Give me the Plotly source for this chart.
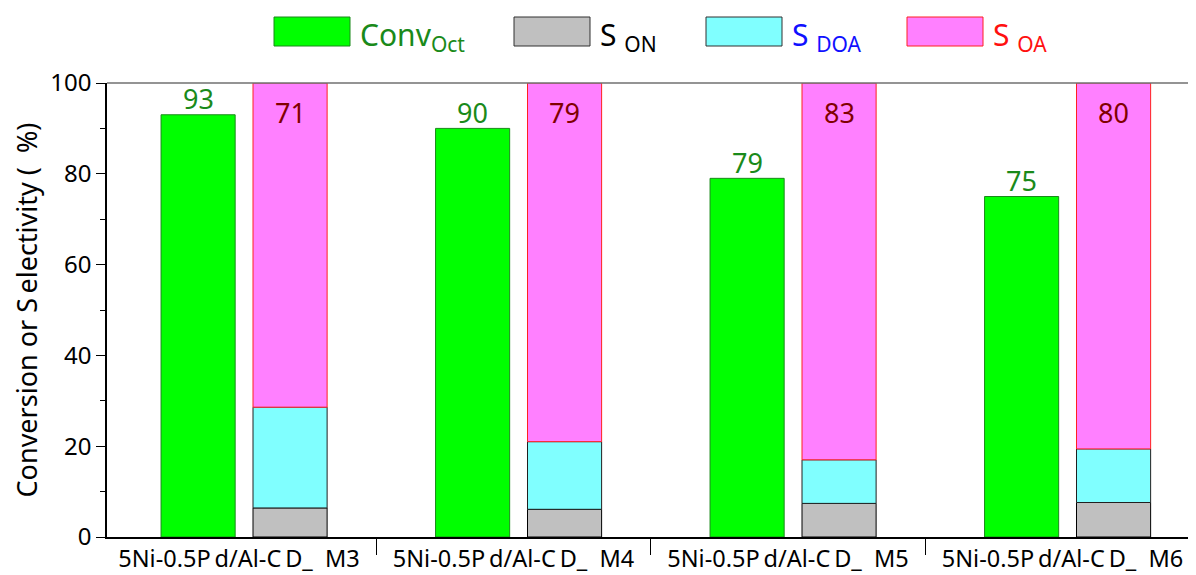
import plotly.graph_objects as go

categories = ["5Ni-0.5P\u2009d/Al-C\u2009D_\u00a0\u00a0M3", "5Ni-0.5P\u2009d/Al-C\u2009D_\u00a0\u00a0M4",
              "5Ni-0.5P\u2009d/Al-C\u2009D_\u00a0\u00a0M5", "5Ni-0.5P\u2009d/Al-C\u2009D_\u00a0\u00a0M6"]
conv_oct = [93, 90, 79, 75]
s_on = [6.4, 6.1, 7.4, 7.6]
s_doa = [22.2, 14.9, 9.6, 11.8]
s_oa = [71.4, 79.0, 83.0, 80.6]
conv_labels = ["93", "90", "79", "75"]
oa_labels = ["71", "79", "83", "80"]

OFF = 8  # page body margin
W, H = 1196 - OFF, 575 - OFF
L, T = 107 - OFF, 83 - OFF
R = 0
B = H - (537 - OFF)
FONT = "Noto Sans"

idx = list(range(len(categories)))
x_conv = [i - 0.149 for i in idx]
x_sel = [i + 0.186 for i in idx]
bw = 0.27

fig = go.Figure()
fig.add_trace(go.Bar(x=x_conv, y=conv_oct, width=bw, marker=dict(color="#00FF00", line=dict(color="#1a8a1a", width=1))))
base1 = [0] * 4
fig.add_trace(go.Bar(x=x_sel, y=s_on, base=base1, width=bw, marker=dict(color="#C0C0C0", line=dict(color="#000000", width=1))))
base2 = [a for a in s_on]
fig.add_trace(go.Bar(x=x_sel, y=s_doa, base=base2, width=bw, marker=dict(color="#80FFFF", line=dict(color="#202020", width=1))))
base3 = [a + b for a, b in zip(s_on, s_doa)]
fig.add_trace(go.Bar(x=x_sel, y=s_oa, base=base3, width=bw, marker=dict(color="#FF80FF", line=dict(color="#FF2020", width=1))))

annotations = []
for i in idx:
    annotations.append(dict(x=x_conv[i], y=conv_oct[i], xref="x", yref="y", text=conv_labels[i],
                            showarrow=False, yanchor="middle", yshift=16,
                            font=dict(family=FONT, size=27, color="#1a8a1a")))
    top = base3[i] + s_oa[i]
    annotations.append(dict(x=x_sel[i], y=top, xref="x", yref="y", text=oa_labels[i],
                            showarrow=False, yanchor="middle", yshift=-29,
                            font=dict(family=FONT, size=27, color="#800000")))

pw, ph = W - L - R, H - T - B
def px(x):
    return (x - OFF - L) / pw
def py(y):
    return (H - B - (y - OFF)) / ph

legend_items = [
    (274, "#00FF00", "#1a8a1a", "Conv", "Oct", "#1a8a1a", ""),
    (514, "#C0C0C0", "#303030", "S", "ON", "#000000", "\u00a0"),
    (706, "#80FFFF", "#303030", "S", "DOA", "#1010FF", "\u00a0"),
    (907, "#FF80FF", "#FF2020", "S", "OA", "#FF1010", "\u00a0"),
]
shapes = []
for x0, fc, lc, main, sub, tc, sp in legend_items:
    shapes.append(dict(type="rect", xref="paper", yref="paper", x0=px(x0), x1=px(x0 + 76),
                       y0=py(46), y1=py(17), fillcolor=fc, line=dict(color=lc, width=1)))
    annotations.append(dict(xref="paper", yref="paper", x=px(x0 + 84), y=py(36), xanchor="left", yanchor="middle",
                            text=f"{main}{sp}<sub>{sub}</sub>", showarrow=False,
                            font=dict(family=FONT, size=30, color=tc)))
shapes.append(dict(type="line", xref="paper", yref="paper", x0=0, x1=1, y0=1, y1=1,
                   line=dict(color="#707070", width=1.5)))

fig.update_layout(
    width=W, height=H, margin=dict(l=L, r=R, t=T, b=B, autoexpand=False),
    plot_bgcolor="white", paper_bgcolor="white", showlegend=False,
    barmode="overlay", annotations=annotations, shapes=shapes,
    font=dict(family=FONT, color="#000000"),
)
fig.update_xaxes(range=[-0.4809, 3.4863], tickmode="array", tickvals=idx, ticktext=categories,
                 ticks="", showline=True, linecolor="#000000", linewidth=1.5, showgrid=False, zeroline=False,
                 automargin=False,
                 tickfont=dict(family=FONT, size=23.5, color="#000000"),
                 minor=dict(tickmode="array", tickvals=[0.5, 1.5, 2.5], ticks="outside", ticklen=16,
                            tickcolor="#000000", tickwidth=1))
fig.update_yaxes(range=[0, 100], tickvals=[0, 20, 40, 60, 80, 100], ticks="outside", ticklen=9,
                 tickcolor="#000000", showline=True, linecolor="#000000", linewidth=1.5, showgrid=False,
                 zeroline=False, automargin=False, tickfont=dict(family=FONT, size=24, color="#000000"),
                 title=dict(text="Conversion or S\u2009electivity (\u00a0\u00a0%)", font=dict(family=FONT, size=27), standoff=6),
                 minor=dict(dtick=10, ticks="outside", ticklen=5, tickcolor="#000000"))

fig.write_html("out.html")
